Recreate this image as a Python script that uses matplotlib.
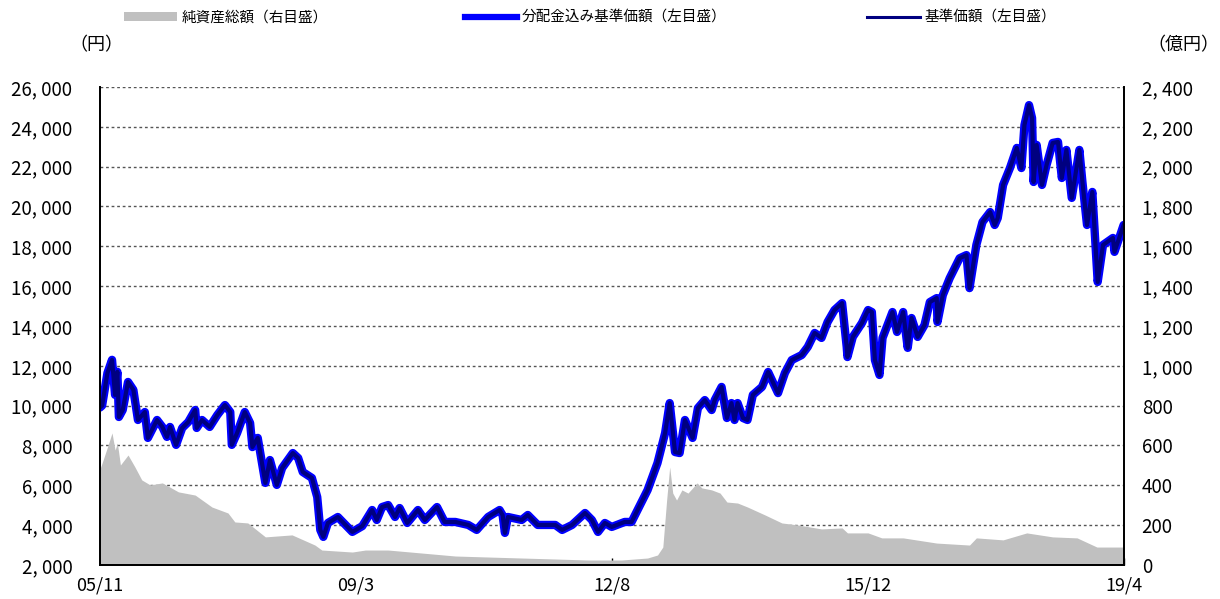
import matplotlib
matplotlib.use("Agg")
import matplotlib.pyplot as plt
import numpy as np
from matplotlib.lines import Line2D
from matplotlib.patches import Patch

plt.rcParams['font.family'] = ['Noto Sans CJK JP', 'DejaVu Sans']

# 分配金込み基準価額 (decimal year, 円)
div_t = [2005.83, 2005.86, 2005.93, 2005.99, 2006.03, 2006.06, 2006.08, 2006.13, 2006.20, 2006.27,
         2006.33, 2006.42, 2006.46, 2006.58, 2006.65, 2006.71, 2006.75, 2006.83, 2006.91, 2006.99,
         2007.08, 2007.10, 2007.17, 2007.27, 2007.37, 2007.47, 2007.54, 2007.56, 2007.63, 2007.73,
         2007.80, 2007.83, 2007.90, 2008.00, 2008.06, 2008.15, 2008.22, 2008.36, 2008.43, 2008.49,
         2008.61, 2008.68, 2008.72, 2008.76, 2008.82, 2008.95, 2009.14, 2009.27, 2009.40, 2009.46,
         2009.53, 2009.61, 2009.70, 2009.76, 2009.86, 2010.00, 2010.09, 2010.25, 2010.35, 2010.49,
         2010.66, 2010.77, 2010.92, 2011.07, 2011.11, 2011.14, 2011.18, 2011.36, 2011.44, 2011.57,
         2011.80, 2011.89, 2012.02, 2012.19, 2012.28, 2012.36, 2012.45, 2012.54, 2012.71, 2012.80,
         2013.01, 2013.14, 2013.24, 2013.30, 2013.37, 2013.43, 2013.50, 2013.60, 2013.67, 2013.76,
         2013.85, 2013.89, 2013.98, 2014.05, 2014.11, 2014.15, 2014.19, 2014.26, 2014.32, 2014.39,
         2014.51, 2014.59, 2014.72, 2014.81, 2014.90, 2015.03, 2015.11, 2015.20, 2015.29, 2015.37,
         2015.46, 2015.56, 2015.62, 2015.63, 2015.70, 2015.82, 2015.90, 2015.95, 2015.99, 2016.05,
         2016.09, 2016.22, 2016.28, 2016.36, 2016.42, 2016.47, 2016.55, 2016.64, 2016.71, 2016.80,
         2016.81, 2016.88, 2016.97, 2017.10, 2017.19, 2017.23, 2017.32, 2017.40, 2017.50, 2017.56,
         2017.60, 2017.67, 2017.76, 2017.85, 2017.91, 2017.95, 2018.01, 2018.05, 2018.07, 2018.11,
         2018.18, 2018.24, 2018.32, 2018.39, 2018.44, 2018.50, 2018.57, 2018.67, 2018.71, 2018.77,
         2018.84, 2018.91, 2018.98, 2019.11, 2019.13, 2019.25]
div_val = [9900, 10000, 11640, 12300, 10540, 11700, 9430, 9780, 11190, 10790,
           9280, 9680, 8380, 9280, 8930, 8430, 8930, 8030, 8880, 9180,
           9780, 8880, 9280, 8930, 9530, 10030, 9680, 8030, 8630, 9680,
           9130, 7920, 8380, 6120, 7270, 6020, 6870, 7620, 7370, 6670,
           6370, 5410, 3760, 3410, 4110, 4410, 3660, 3950, 4760, 4260,
           4910, 5010, 4410, 4860, 4110, 4760, 4260, 4910, 4160, 4160,
           4010, 3760, 4410, 4760, 4500, 3610, 4410, 4260, 4510, 4010,
           4010, 3760, 4010, 4610, 4260, 3660, 4110, 3910, 4160, 4160,
           5760, 7120, 8630, 10130, 7670, 7620, 9280, 8380, 9880, 10280,
           9780, 10280, 10940, 9380, 10130, 9280, 10130, 9380, 9280, 10540,
           10940, 11690, 10630, 11640, 12290, 12540, 12950, 13650, 13400, 14200,
           14800, 15150, 12950, 12440, 13450, 14150, 14800, 14700, 12290, 11540,
           13400, 14700, 13700, 14700, 12900, 14400, 13450, 14050, 15200, 15400,
           14200, 15550, 16400, 17400, 17560, 15900, 18070, 19220, 19720, 19070,
           19420, 21080, 21930, 22940, 21930, 24090, 25090, 24440, 21230, 23090,
           21080, 22080, 23190, 23240, 21430, 22840, 20430, 22840, 21230, 19070,
           20730, 16210, 18070, 18420, 17720, 19070]

# 基準価額 (no distributions paid, overlaps the line above)
base_t = div_t
base_val = list(div_val)

# 純資産総額 (億円)
aum_t = [2005.83, 2005.86, 2005.93, 2005.99, 2006.03, 2006.06, 2006.10, 2006.20, 2006.29, 2006.38,
         2006.49, 2006.65, 2006.86, 2007.08, 2007.30, 2007.51, 2007.60, 2007.77, 2008.00, 2008.35,
         2008.65, 2008.74, 2009.14, 2009.31, 2009.61, 2010.05, 2010.49, 2010.92, 2011.36, 2011.80,
         2012.23, 2012.67, 2013.01, 2013.14, 2013.21, 2013.26, 2013.30, 2013.34, 2013.39, 2013.46,
         2013.54, 2013.66, 2013.72, 2013.85, 2013.96, 2014.05, 2014.19, 2014.32, 2014.55, 2014.77,
         2014.98, 2015.29, 2015.56, 2015.63, 2015.90, 2016.08, 2016.36, 2016.80, 2017.23, 2017.32,
         2017.67, 2017.98, 2018.32, 2018.64, 2018.90, 2019.25]
aum_val = [480, 512, 592, 663, 577, 612, 502, 552, 492, 427,
           402, 412, 367, 351, 291, 261, 216, 211, 141, 151,
           100, 75, 65, 75, 75, 60, 45, 40, 35, 30,
           25, 25, 35, 50, 90, 326, 492, 361, 326, 377,
           361, 412, 387, 377, 361, 316, 311, 291, 251, 211,
           201, 181, 186, 161, 161, 136, 136, 110, 100, 136,
           126, 161, 141, 136, 90, 90]

x_labels = ["05/11", "09/3", "12/8", "15/12", "19/4"]
left_ticks = list(range(2000, 26001, 2000))
right_ticks = list(range(0, 2401, 200))


def fmt(v):
    return f"{v:,}".replace(",", ", ")


fig = plt.figure(figsize=(12.2, 5.99), dpi=100)
ax2 = fig.add_axes([0.082, 0.0568, 0.839, 0.798])
ax1 = ax2.twinx()
ax2.yaxis.tick_right()
ax1.yaxis.tick_left()

# grey area on back axis, gridlines under it
ax2.fill_between(aum_t, aum_val, 0, color="#C0C0C0", linewidth=0)
ax2.set_ylim(0, 2400)
ax2.set_yticks(right_ticks)
ax2.set_yticklabels([fmt(v) for v in right_ticks])
ax2.set_axisbelow(True)
ax2.grid(axis="y", color="#555555", linestyle=(0, (2, 2)), linewidth=1.0)

ax1.set_zorder(ax2.get_zorder() + 1)
ax1.patch.set_visible(False)
ax1.plot(div_t, div_val, color="#0000FF", lw=6, solid_joinstyle="round", solid_capstyle="round")
ax1.plot(base_t, base_val, color="#000080", lw=3, solid_joinstyle="round")
ax1.set_ylim(2000, 26000)
ax1.set_yticks(left_ticks)
ax1.set_yticklabels([fmt(v) for v in left_ticks])

xmin, xmax = 2005.833, 2019.25
ax2.set_xlim(xmin, xmax)
ax2.set_xticks(np.linspace(xmin, xmax, len(x_labels)))
ax2.set_xticklabels(x_labels)

ax1.tick_params(axis="y", length=0, pad=20, labelsize=13.5)
ax2.tick_params(axis="y", length=0, pad=13, labelsize=13.5, labelright=True, labelleft=False)
ax2.tick_params(axis="x", direction="in", length=5, width=1, pad=8, labelsize=13)
for a in (ax1, ax2):
    a.spines["top"].set_visible(False)
    for s in ("left", "right", "bottom"):
        a.spines[s].set_linewidth(1.3)
        a.spines[s].set_color("black")

fig.text(0.079, 0.925, "（円）", ha="center", va="center", fontsize=13)
fig.text(0.970, 0.925, "（億円）", ha="center", va="center", fontsize=13)

entries = [
    (Patch(facecolor="#C0C0C0", edgecolor="none"), "純資産総額（右目盛）", 0.102),
    (Line2D([], [], color="#0000FF", lw=4.5), "分配金込み基準価額（左目盛）", 0.381),
    (Line2D([], [], color="#000080", lw=2.2), "基準価額（左目盛）", 0.711),
]
for h, lab, xpos in entries:
    leg = fig.legend([h], [lab], loc="center left", bbox_to_anchor=(xpos, 0.97),
                     frameon=False, fontsize=10.5, handlelength=3.6, handleheight=0.55,
                     handletextpad=0.3, borderpad=0, borderaxespad=0)

fig.savefig("out.png", dpi=100)
